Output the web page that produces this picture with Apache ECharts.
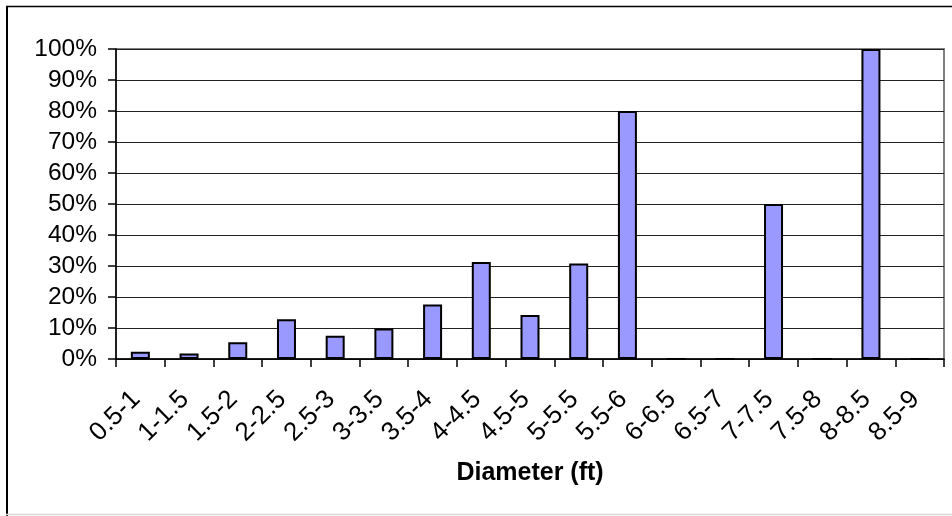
<!DOCTYPE html>
<html>
<head>
<meta charset="utf-8">
<script src="https://cdn.jsdelivr.net/npm/echarts@6/dist/echarts.min.js"></script>
<style>
html,body{margin:0;padding:0;background:#fff;}
#chart{width:952px;height:516px;}
</style>
</head>
<body>
<div id="chart"></div>
<script>
var categories = ['0.5-1','1-1.5','1.5-2','2-2.5','2.5-3','3-3.5','3.5-4','4-4.5','4.5-5','5-5.5','5.5-6','6-6.5','6.5-7','7-7.5','7.5-8','8-8.5','8.5-9'];
var values = [0.023, 0.018, 0.054, 0.128, 0.075, 0.098, 0.176, 0.313, 0.142, 0.308, 0.80, 0, 0, 0.50, 0, 1.00, 0];
var xAxisTitle = 'Diameter (ft)';

var FONT = 'Liberation Sans, Arial, sans-serif';
var chart = echarts.init(document.getElementById('chart'), null, {renderer: 'canvas'});
chart.setOption({
  animation: false,
  backgroundColor: '#fff',
  grid: {
    left: 116, right: 8, top: 49, bottom: 157,
    show: true, borderColor: '#808080', borderWidth: 2, backgroundColor: 'transparent'
  },
  graphic: [
    {type: 'line', shape: {x1: 7, y1: 6, x2: 7, y2: 516}, style: {stroke: '#000', lineWidth: 2}, z: 100},
    {type: 'line', shape: {x1: 6, y1: 6.5, x2: 952, y2: 6.5}, style: {stroke: '#000', lineWidth: 1.5}, z: 100},
    {type: 'line', shape: {x1: 6, y1: 514.5, x2: 952, y2: 514.5}, style: {stroke: '#d8d8d8', lineWidth: 1.5}, z: 100}
  ],
  xAxis: {
    type: 'category',
    data: categories,
    boundaryGap: true,
    name: xAxisTitle,
    nameLocation: 'middle',
    nameGap: 102,
    nameTextStyle: {fontFamily: FONT, fontSize: 25, fontWeight: 'bold', color: '#000'},
    axisLine: {show: true, lineStyle: {color: '#000', width: 1.5}},
    axisTick: {show: true, length: 8, lineStyle: {color: '#000', width: 1.5}},
    axisLabel: {rotate: 45, margin: 32, interval: 0, padding: [0, 6, 0, 0], fontFamily: FONT, fontSize: 26, color: '#000'},
    splitLine: {show: false}
  },
  yAxis: {
    type: 'value',
    min: 0, max: 1, interval: 0.1,
    axisLine: {show: true, lineStyle: {color: '#000', width: 1.5}},
    axisTick: {show: true, length: 8, lineStyle: {color: '#000', width: 1.5}},
    axisLabel: {margin: 19, fontFamily: FONT, fontSize: 24.5, color: '#000',
      formatter: function (v) { return Math.round(v * 100) + '%'; }},
    splitLine: {show: true, lineStyle: {color: '#222', width: 1}}
  },
  series: [{
    type: 'bar',
    data: values,
    barWidth: 19,
    itemStyle: {color: '#9999FF', borderColor: '#000', borderWidth: 2}
  }]
});
</script>
</body>
</html>
